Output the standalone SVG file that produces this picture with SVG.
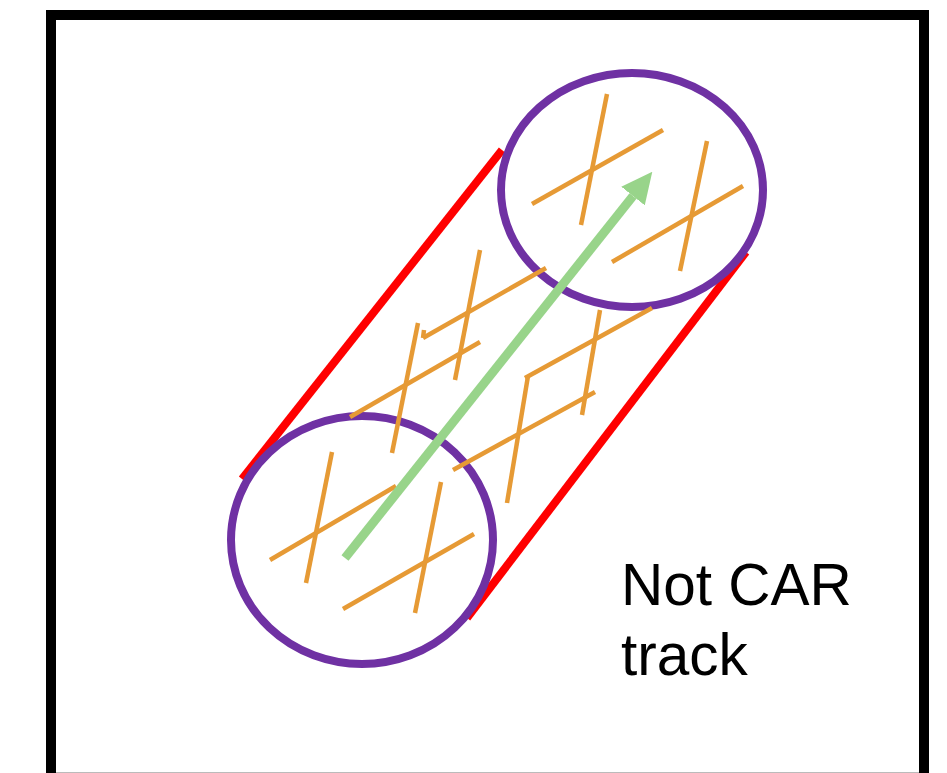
<svg xmlns="http://www.w3.org/2000/svg" width="947" height="773" viewBox="0 0 947 773">
  <style>
    .frame { fill: #ffffff; stroke: #000000; stroke-width: 10; }
    .track { fill: none; stroke: #ff0000; stroke-width: 8; }
    .circ { fill: none; stroke: #6f31a3; stroke-width: 8; }
    .hatch { fill: none; stroke: #e69a35; stroke-width: 4.5; stroke-linecap: butt; }
    .arrow { fill: none; stroke: #98d48a; stroke-width: 9; }
    .label { font-family: "Liberation Sans", Arial, sans-serif; font-size: 58.5px; fill: #000000; }
  </style>
  <defs>
    <marker id="head" markerUnits="userSpaceOnUse" markerWidth="31" markerHeight="30" viewBox="0 0 31 30" refX="0" refY="15" orient="auto">
      <path d="M0,0 L31,15 L0,30 Z" fill="#98d48a"/>
    </marker>
  </defs>
  <rect width="947" height="773" fill="#ffffff"/>
  <rect class="frame" x="51" y="15" width="873" height="800"/>
  <line x1="56" y1="772.5" x2="919" y2="772.5" stroke="#bbbbbb" stroke-width="1"/>

  <g id="connectors">
    <line class="track" x1="242" y1="479" x2="502" y2="150"/>
    <line class="track" x1="467" y1="618" x2="746" y2="252"/>
  </g>

  <g id="start-circle">
    <ellipse class="circ" cx="362" cy="540" rx="131" ry="124"/>
  </g>
  <g id="end-circle">
    <ellipse class="circ" cx="632" cy="190" rx="131" ry="117"/>
  </g>

  <g id="hatching">
    <line class="hatch" x1="607" y1="94" x2="581" y2="225"/>
    <line class="hatch" x1="663" y1="130" x2="532" y2="204"/>
    <line class="hatch" x1="707" y1="141" x2="680" y2="271"/>
    <line class="hatch" x1="743" y1="186" x2="612" y2="262"/>

    <line class="hatch" x1="332" y1="452" x2="306" y2="583"/>
    <line class="hatch" x1="396" y1="486" x2="270" y2="560"/>
    <line class="hatch" x1="441" y1="482" x2="415" y2="613"/>
    <line class="hatch" x1="474" y1="534" x2="343" y2="609"/>

    <line class="hatch" x1="480" y1="250" x2="455" y2="380"/>
    <line class="hatch" x1="546" y1="268" x2="423" y2="338"/>
    <line class="hatch" x1="423" y1="338" x2="424" y2="330"/>
    <line class="hatch" x1="418" y1="323" x2="392" y2="453"/>
    <line class="hatch" x1="480" y1="342" x2="350" y2="417"/>

    <line class="hatch" x1="528" y1="376" x2="507" y2="503"/>
    <line class="hatch" x1="652" y1="308" x2="525" y2="378"/>
    <line class="hatch" x1="600" y1="310" x2="582" y2="415"/>
    <line class="hatch" x1="595" y1="392" x2="453" y2="470"/>
  </g>

  <g id="motion-arrow">
    <line class="arrow" x1="345" y1="558" x2="633" y2="196" marker-end="url(#head)"/>
  </g>

  <g id="label">
    <text class="label" x="621" y="605">Not CAR</text>
    <text class="label" x="621" y="675">track</text>
  </g>
</svg>
